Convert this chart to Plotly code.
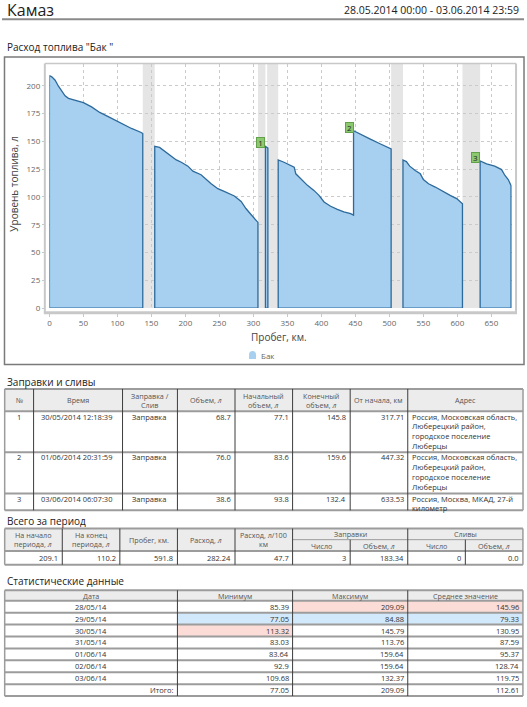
import plotly.graph_objects as go

W, H = 527, 707
FONT = "Open Sans"

# ---------------- data ----------------
seg1_km = [0, 3.5, 8.4, 13.3, 18, 23, 28, 37.7, 50, 62, 74, 86.5, 100, 111, 120.7, 135, 137.3]
seg1_fuel = [209.1, 208, 205, 199.6, 195, 191, 188.7, 187, 184.8, 181, 176, 172.3, 168, 164.8, 161.6, 158, 157]
seg2_km = [154.9, 162, 174.4, 186.6, 194, 203.7, 211, 223, 237.9, 247.7, 257, 272, 282, 289, 296.5, 306.7]
seg2_fuel = [145.5, 144.6, 139.3, 133.3, 131.2, 127.7, 123.2, 120, 111.9, 107.4, 105, 100.9, 96, 89.6, 84.2, 77.1]
seg3_km = [317.7, 319, 321.3]
seg3_fuel = [145.8, 145, 143.9]
seg4_km = [336.5, 345, 352.6, 360, 362.4, 369.7, 379.5, 389, 396.5, 403.9, 413.6, 423.5, 433, 443, 447.3,
           447.3, 457.6, 472, 487, 496.7, 502.6]
seg4_fuel = [133.3, 131.2, 128.8, 126.8, 120.8, 116.3, 110.4, 105.9, 101.4, 95.5, 91.6, 88.9, 86.6, 85, 83.6,
             159.6, 156.2, 152, 147.6, 144.6, 143.1]
seg5_km = [520, 525, 529.9, 538, 545.5, 550, 557.6, 567.5, 579.6, 589.4, 599, 607.5]
seg5_fuel = [133.3, 131.8, 127.7, 123.8, 120.8, 115.7, 111.9, 108.9, 104.5, 101.4, 98.5, 93.8]
seg6_km = [633.5, 643, 655, 665, 670, 674.8, 679]
seg6_fuel = [132.4, 129.7, 127.7, 124.6, 119.3, 115.7, 110.2]
segments = [(seg1_km, seg1_fuel), (seg2_km, seg2_fuel), (seg3_km, seg3_fuel),
            (seg4_km, seg4_fuel), (seg5_km, seg5_fuel), (seg6_km, seg6_fuel)]

gap_start = [137.3, 306.7, 320.2, 502.6, 607.5]
gap_end = [154.9, 317.7, 336.5, 520, 633.5]

x_ticks = list(range(0, 651, 50))
y_ticks = list(range(0, 201, 25))

# refuel table
ref_num = [1, 2, 3]
ref_time = ["30/05/2014 12:18:39", "01/06/2014 20:31:59", "03/06/2014 06:07:30"]
ref_type = ["Заправка", "Заправка", "Заправка"]
ref_volume = [68.7, 76.0, 38.6]
ref_start = [77.1, 83.6, 93.8]
ref_end = [145.8, 159.6, 132.4]
ref_km = [317.71, 447.32, 633.53]
ref_addr = [["Россия, Московская область,", "Люберецкий район,", "городское поселение", "Люберцы"],
            ["Россия, Московская область,", "Люберецкий район,", "городское поселение", "Люберцы"],
            ["Россия, Москва, МКАД, 27-й", "километр"]]
ref_headers = [["№"], ["Время"], ["Заправка /", "Слив"], ["Объем, <i>л</i>"], ["Начальный", "объем, <i>л</i>"],
               ["Конечный", "объем, <i>л</i>"], ["От начала, км"], ["Адрес"]]

# totals
tot_headers = [["На начало", "периода, <i>л</i>"], ["На конец", "периода, <i>л</i>"], ["Пробег, км."],
               ["Расход, <i>л</i>"], ["Расход, л/100", "км"]]
tot_groups = ["Заправки", "Сливы"]
tot_sub = ["Число", "Объем, <i>л</i>", "Число", "Объем, <i>л</i>"]
tot_values = ["209.1", "110.2", "591.8", "282.24", "47.7", "3", "183.34", "0", "0.0"]

# statistics
stat_headers = ["Дата", "Минимум", "Максимум", "Среднее значение"]
stat_dates = ["28/05/14", "29/05/14", "30/05/14", "31/05/14", "01/06/14", "02/06/14", "03/06/14"]
stat_min = [85.39, 77.05, 113.32, 83.03, 83.64, 92.9, 109.68]
stat_max = [209.09, 84.88, 145.79, 113.76, 159.64, 159.64, 132.37]
stat_avg = [145.96, 79.33, 130.95, 87.59, 95.37, 128.74, 119.75]
stat_total = [77.05, 209.09, 112.61]

# ---------------- helpers ----------------
def X(px):
    return px / W

def Y(py):
    return 1 - py / H

shapes = []
annots = []

def line(x0, y0, x1, y1, color, w):
    shapes.append(dict(type="line", xref="paper", yref="paper", x0=X(x0), y0=Y(y0), x1=X(x1), y1=Y(y1),
                       line=dict(color=color, width=w)))

def box(x0, y0, x1, y1, fill, lc=None, lw=0):
    shapes.append(dict(type="rect", xref="paper", yref="paper", x0=X(x0), y0=Y(y0), x1=X(x1), y1=Y(y1),
                       fillcolor=fill, line=dict(color=lc or fill, width=lw), layer="below"))

def text(x, y, s, size=7.5, color="#333", xa="left", ya="middle", angle=0):
    annots.append(dict(x=X(x), y=Y(y), xref="paper", yref="paper", text=s, showarrow=False,
                       xanchor=xa, yanchor=ya, textangle=angle,
                       align={"left": "left", "right": "right", "center": "center"}[xa],
                       font=dict(size=size, color=color, family=FONT)))

def mtext(x, yc, lines, spacing, size=7.5, color="#333", xa="left"):
    n = len(lines)
    for k, s in enumerate(lines):
        text(x, yc + (k - (n - 1) / 2) * spacing, s, size, color, xa=xa)

def ttext(x, ytop, lines, spacing, size=7.5, color="#333", xa="left"):
    for k, s in enumerate(lines):
        text(x, ytop + spacing / 2 + k * spacing, s, size, color, xa=xa)

fmt = lambda v: f"{v:g}"

# ---------------- header ----------------
text(3, 10.5, "Камаз", 16, "#222")
text(521, 10.5, "28.05.2014 00:00 - 03.06.2014 23:59", 10.5, "#222", xa="right")
line(0, 19.5, 524, 19.5, "#8a8a8a", 2)
text(3, 47, "Расход топлива \"Бак \"", 10, "#222")

# chart box & frame
shapes.append(dict(type="rect", xref="paper", yref="paper", x0=X(2.5), y0=Y(57.5), x1=X(524), y1=Y(367),
                   line=dict(color="#7a7a7a", width=1.5), fillcolor="rgba(0,0,0,0)"))
FR = "#c8c8c8"
line(43, 64, 516, 64, FR, 1.5)
line(43, 64, 43, 315, FR, 2)
line(516, 64, 516, 315, FR, 2)
line(42, 315, 517, 315, FR, 3)

# gray gaps
for a, b in zip(gap_start, gap_end):
    shapes.append(dict(type="rect", xref="x", yref="y domain", x0=a, x1=b, y0=0, y1=1,
                       fillcolor="#e5e5e5", line=dict(width=0), layer="below"))

fig = go.Figure()
for i, (km, fuel) in enumerate(segments):
    xs = [km[0]] + km + [km[-1], km[0]]
    ys = [0] + fuel + [0, 0]
    fig.add_trace(go.Scatter(x=xs, y=ys, mode="lines", fill="toself", fillcolor="#a6cff0",
                             line=dict(color="#2d6a9b", width=1.3), name="Бак", showlegend=False,
                             hoverinfo="skip"))

# refuel markers
for n, k, v in zip(ref_num, ref_km, ref_end):
    annots.append(dict(x=k, y=v, xref="x", yref="y", text=str(n), showarrow=False, xanchor="right",
                       yanchor="middle", yshift=3.3, bgcolor="#8cc870", bordercolor="#62a049",
                       borderwidth=1, borderpad=0, width=7, height=9,
                       font=dict(size=8, color="#222", family=FONT)))

# axis titles & legend
text(278, 339, "Пробег, км.", 10, "#444", xa="center")
text(12, 185, "Уровень топлива, л", 10, "#444", xa="center", angle=-90)
path = (f"M {X(248)} {Y(361.5)} L {X(248)} {Y(356.5)} Q {X(248.5)} {Y(353.5)} {X(251.5)} {Y(353.5)} "
        f"Q {X(254.5)} {Y(353.5)} {X(255)} {Y(356.5)} L {X(255)} {Y(361.5)} Z")
shapes.append(dict(type="path", xref="paper", yref="paper", path=path, fillcolor="#a6cff0",
                   line=dict(width=0)))
text(257.5, 358, "Бак", 8, "#666")

# ---------------- tables ----------------
HL = "#9c9c9c"
VL = "#3c3c3c"
HB = "#ececec"
TC = "#333"
HC = "#555"
FS = 7.5
HFS = 7.2
HSP = 9.0   # header line spacing
ASP = 9.8   # body line spacing

# Table 1
text(3, 385, "Заправки и сливы", 10, "#222")
c1 = [2.7, 31.7, 121, 176.1, 233.9, 291.7, 349.5, 407.3, 523]
r1 = [391.7, 414.3, 455.5, 497, 514]
box(c1[0], r1[0], c1[-1], r1[1], HB)
for j, h in enumerate(ref_headers):
    mtext((c1[j] + c1[j + 1]) / 2, (r1[0] + r1[1]) / 2, h, HSP, HFS, HC, xa="center")
for i in range(3):
    yt = r1[i + 1] + 0.3
    ttext((c1[0] + c1[1]) / 2, yt, [str(ref_num[i])], ASP, FS, TC, xa="center")
    ttext(c1[1] + 5, yt, [ref_time[i]], ASP, FS, TC)
    ttext(c1[2] + 7, yt, [ref_type[i]], ASP, FS, TC)
    ttext(c1[4] - 2, yt, [f"{ref_volume[i]:.1f}"], ASP, FS, TC, xa="right")
    ttext(c1[5] - 2, yt, [f"{ref_start[i]:.1f}"], ASP, FS, TC, xa="right")
    ttext(c1[6] - 2, yt, [f"{ref_end[i]:.1f}"], ASP, FS, TC, xa="right")
    ttext(c1[7] - 2, yt, [f"{ref_km[i]:.2f}"], ASP, FS, TC, xa="right")
    ttext(c1[7] + 2, yt, ref_addr[i], ASP, FS, TC)
for y in r1:
    line(c1[0], y, c1[-1], y, HL, 2)
for x in c1[1:-1]:
    line(x, r1[0], x, r1[-1], VL, 1)
for x in (c1[0], c1[-1]):
    line(x, r1[0], x, r1[-1], HL, 1.5)

# Table 2
text(3, 524.3, "Всего за период", 10, "#222")
c2 = [2.7 + 57.8 * k for k in range(10)]
t2, m2, h2, b2 = 532.3, 543.5, 554.8, 568.8
box(c2[0], t2, c2[-1], h2, HB)
for j, h in enumerate(tot_headers):
    mtext((c2[j] + c2[j + 1]) / 2, (t2 + h2) / 2, h, HSP, HFS, HC, xa="center")
for g, h in enumerate(tot_groups):
    text((c2[5 + 2 * g] + c2[7 + 2 * g]) / 2, (t2 + m2) / 2 + 0.3, h, HFS, HC, xa="center")
for j, h in enumerate(tot_sub):
    text((c2[5 + j] + c2[6 + j]) / 2, (m2 + h2) / 2 + 0.3, h, HFS, HC, xa="center")
for j, v in enumerate(tot_values):
    text(c2[j + 1] - 2, (h2 + b2) / 2, v, FS, TC, xa="right")
for y in (t2, h2, b2):
    line(c2[0], y, c2[-1], y, HL, 2)
line(c2[5], m2, c2[-1], m2, HL, 1)
for j in (1, 2, 3, 4, 5, 7):
    line(c2[j], t2, c2[j], b2, VL, 1)
for j in (6, 8):
    line(c2[j], m2, c2[j], b2, VL, 1)
for x in (c2[0], c2[-1]):
    line(x, t2, x, b2, HL, 1.5)

# Table 3
text(3, 585, "Статистические данные", 10, "#222")
c3 = [c2[0], c2[3], c2[5], c2[7], c2[9]]
r3 = [594.5, 605] + [605 + 12 * (i + 1) for i in range(8)]
box(c3[0], r3[0], c3[-1], r3[1], HB)
PINK, BLUE = "#fcdcd6", "#d2e9fb"
cols = [stat_min, stat_max, stat_avg]
for j, col in enumerate(cols):
    for i, v in enumerate(col):
        if v == max(col):
            box(c3[j + 1] + 0.5, r3[i + 1], c3[j + 2] - 0.5, r3[i + 2], PINK)
        elif v == min(col):
            box(c3[j + 1] + 0.5, r3[i + 1], c3[j + 2] - 0.5, r3[i + 2], BLUE)
for j, h in enumerate(stat_headers):
    text((c3[j] + c3[j + 1]) / 2, (r3[0] + r3[1]) / 2, h, HFS, HC, xa="center")
for i, d in enumerate(stat_dates):
    yc = (r3[i + 1] + r3[i + 2]) / 2
    text((c3[0] + c3[1]) / 2, yc, d, FS, TC, xa="center")
    for j, col in enumerate(cols):
        text(c3[j + 2] - 2, yc, fmt(col[i]), FS, TC, xa="right")
yc = (r3[-2] + r3[-1]) / 2
text(c3[1] - 2, yc, "Итого:", FS, TC, xa="right")
for j, v in enumerate(stat_total):
    text(c3[j + 2] - 2, yc, fmt(v), FS, TC, xa="right")
for y in r3:
    line(c3[0], y, c3[-1], y, HL, 2)
for x in c3[1:-1]:
    line(x, r3[0], x, r3[-1], VL, 1)
for x in (c3[0], c3[-1]):
    line(x, r3[0], x, r3[-1], HL, 1.5)

# ---------------- layout ----------------
fig.update_layout(
    width=W, height=H, margin=dict(l=0, r=0, t=0, b=0),
    paper_bgcolor="white", plot_bgcolor="white",
    font=dict(family=FONT, size=8, color="#666"),
    showlegend=False,
    xaxis=dict(domain=[X(47.6), X(511.7)], range=[0, 680], anchor="free", position=Y(315),
               tickvals=x_ticks, ticks="outside", ticklen=3, tickcolor=FR, showline=False,
               showgrid=True, gridcolor="#cacaca", griddash="dot", gridwidth=1, zeroline=False,
               tickfont=dict(size=8, color="#666", family=FONT), fixedrange=True),
    yaxis=dict(domain=[Y(310.3), Y(64)], range=[0, 220], anchor="free", position=X(43),
               tickvals=y_ticks, ticks="outside", ticklen=3, tickcolor=FR, showline=False,
               showgrid=True, gridcolor="#cacaca", griddash="dot", gridwidth=1, zeroline=False,
               tickfont=dict(size=8, color="#666", family=FONT), fixedrange=True),
    shapes=shapes, annotations=annots,
)

fig.write_html("out.html")
